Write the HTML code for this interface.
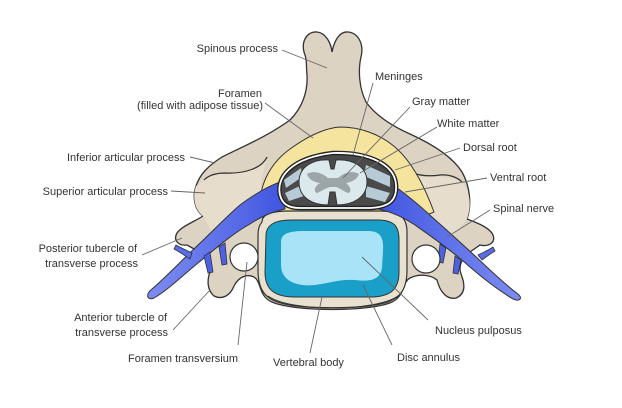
<!DOCTYPE html>
<html><head><meta charset="utf-8"><style>
html,body{margin:0;padding:0;background:#fff;}
svg{display:block;}
text{font-family:"Liberation Sans",Arial,sans-serif;font-size:11px;fill:#333;}
</style></head><body>
<svg width="622" height="408" viewBox="0 0 622 408" xmlns="http://www.w3.org/2000/svg">
<defs>
<linearGradient id="nl" x1="0" y1="0" x2="1" y2="0">
<stop offset="0" stop-color="#7d8cf0"/><stop offset="0.6" stop-color="#5a6de8"/><stop offset="1" stop-color="#3f55e0"/>
</linearGradient>
<linearGradient id="nr" x1="1" y1="0" x2="0" y2="0">
<stop offset="0" stop-color="#7d8cf0"/><stop offset="0.6" stop-color="#5a6de8"/><stop offset="1" stop-color="#3f55e0"/>
</linearGradient>
</defs>
<rect width="622" height="408" fill="#fff"/>

<!-- bone base -->
<path d="M305,55 C300,42 307,31 317,32 C326,33 331,43 332,52 C334,42 339,31 348,32 C359,33 364,45 361,57 C358,70 359,88 366,102 C376,116 392,126 410,134 C432,144 452,156 462,172 C470,186 472,205 467,219 C478,223 490,228 493,235 C496,243 488,247 480,245 L470,252 C462,258 458,266 461,274 C465,284 466,294 456,298 C447,300 440,292 437,280 C430,274 418,274 410,278 C402,282 405,296 392,302 C370,312 295,312 272,302 C258,296 262,282 254,277 C246,273 238,278 234,286 C230,296 222,300 214,296 C207,290 207,280 210,272 C211,262 205,255 196,250 L187,245 C178,246 173,240 177,233 C182,226 194,222 203,216 C195,210 192,198 196,186 C200,174 208,166 222,157 C244,146 268,136 290,120 C302,108 308,92 307,75 C306,65 307,60 305,55 Z" fill="#dcd3c3" stroke="#333" stroke-width="1.3"/>
<!-- lighter articular lobes -->
<path d="M204,180 C214,174 225,173 240,173 C252,171 262,166 267,158 C262,176 258,195 262,212 L245,208 L228,222 L212,233 L203,216 C195,210 192,198 196,186 Z" fill="#e6ddcd"/>
<path d="M462,182 C450,176 440,176 428,177 C418,178 408,172 397,162 C405,185 413,200 420,212 L435,220 L452,236 L467,219 C472,205 470,192 462,182 Z" fill="#e6ddcd"/>
<path d="M267,157 C262,168 245,174 225,173 C215,173 208,176 204,180" fill="none" stroke="#333" stroke-width="1.2"/>
<path d="M397,162 C405,172 420,178 440,175 C450,174 458,178 462,182" fill="none" stroke="#333" stroke-width="1.2"/>

<!-- yellow -->
<path d="M260,205 C260,182 272,162 290,149 C308,136 325,128 340,127 C360,127 380,134 396,148 C412,162 424,185 434,212 L420,218 L262,217 Z" fill="#f5e49e" stroke="#333" stroke-width="1"/>

<!-- body -->
<path d="M262,222 C262,214 272,211 290,211 L380,211 C398,211 407,216 407,232 L407,270 C407,290 400,300 380,304 C360,309 305,309 285,304 C265,300 258,290 258,270 L258,235 C258,228 260,224 262,222 Z" fill="#e9e1cf" stroke="#333" stroke-width="1.2"/>
<path d="M268,296 C290,312 375,312 398,296" fill="none" stroke="#333" stroke-width="1"/>
<!-- disc -->
<path d="M266,236 C266,224 276,220 292,220 L378,220 C394,220 399,226 399,240 L399,272 C399,290 390,297 370,297 L295,297 C275,297 265,290 265,272 Z" fill="#1a9fc8" stroke="#333" stroke-width="1"/>
<path d="M281,242 C281,233 290,231 305,231 L368,231 C380,231 384,237 383,251 L382,268 C380,280 370,282 355,280 C340,279 330,283 315,285 C295,287 281,280 281,265 Z" fill="#a8e3f7"/>

<!-- nerves -->
<path d="M283,181 C268,186 255,194 240,205 C225,218 212,232 195,248 C180,262 165,278 152,289 C145,294 147,301 154,298 C168,290 182,276 198,263 C215,249 232,234 250,224 C262,216 272,212 285,209 Z" fill="url(#nl)" stroke="#333" stroke-width="1"/>
<path d="M192,253 C186,250 181,248 176,245 L174,249 C180,252 185,256 190,259 Z" fill="#5a6de8" stroke="#333" stroke-width="0.8"/>
<path d="M204,256 L208,273 L213,272 L210,252 Z" fill="#4d61e4" stroke="#333" stroke-width="0.8"/>
<path d="M219,247 L222,265 L227,264 L225,243 Z" fill="#4d61e4" stroke="#333" stroke-width="0.8"/>

<path d="M390,183 C405,193 418,204 432,217 C450,233 470,251 490,270 C502,281 512,290 518,294 C523,298 520,302 513,299 C500,291 486,281 470,267 C452,251 432,237 415,225 C400,215 388,211 378,209 Z" fill="url(#nr)" stroke="#333" stroke-width="1"/>
<path d="M478,255 C484,252 489,250 493,247 L495,251 C490,254 486,257 482,260 Z" fill="#5a6de8" stroke="#333" stroke-width="0.8"/>
<path d="M440,244 L438,262 L443,263 L446,248 Z" fill="#4d61e4" stroke="#333" stroke-width="0.8"/>
<path d="M455,256 L453,273 L458,274 L461,260 Z" fill="#4d61e4" stroke="#333" stroke-width="0.8"/>

<!-- cord enclosure -->
<path d="M280,195 C276,178 290,158 333,153 C370,152 395,165 396,185 C397,200 390,207 370,208 L300,208 C287,208 282,203 280,195 Z" fill="#4a4a4a" stroke="#222" stroke-width="4.5"/>
<path d="M280,195 C276,178 290,158 333,153 C370,152 395,165 396,185 C397,200 390,207 370,208 L300,208 C287,208 282,203 280,195 Z" fill="none" stroke="#fff" stroke-width="1.8"/>
<path d="M284,180 L301,168 L302,177 L286,188 Z" fill="#b7cbd6"/>
<path d="M285,193 L302,185 L304,196 L289,201 Z" fill="#b7cbd6"/>
<path d="M390,176 L366,165 L364,176 L390,187 Z" fill="#b7cbd6"/>
<path d="M390,193 L366,186 L366,197 L385,202 Z" fill="#b7cbd6"/>
<!-- cord -->
<path d="M299,182 C299,166 314,159 329,160 L331,169 L334,169 L336,160 C352,159 367,166 367,182 C367,198 352,205 337,205 L335,192 L330,192 L328,205 C313,205 299,198 299,182 Z" fill="#dbe8ec" stroke="#333" stroke-width="1"/>
<path d="M307,174 C314,170 322,173 328,178 L338,178 C344,173 352,170 359,174 C357,180 351,182 346,183 C351,187 352,192 348,193 C343,191 340,188 336,187 L330,187 C326,188 322,191 317,193 C313,191 315,186 320,183 C314,182 309,180 307,174 Z" fill="#9ca5a8"/>

<!-- foramina transversaria -->
<circle cx="244" cy="257" r="14" fill="#fff" stroke="#333" stroke-width="1.2"/>
<circle cx="426" cy="259" r="14" fill="#fff" stroke="#333" stroke-width="1.2"/>

<!-- leaders -->
<g stroke="#666" stroke-width="0.9" fill="none">
<line x1="282" y1="50" x2="327" y2="68"/>
<line x1="265" y1="103" x2="313" y2="138"/>
<line x1="373" y1="83" x2="353" y2="155"/>
<line x1="410" y1="107" x2="343" y2="178"/>
<line x1="437" y1="127" x2="360" y2="173"/>
<line x1="460" y1="148" x2="395" y2="170"/>
<line x1="487" y1="178" x2="405" y2="192"/>
<line x1="490" y1="210" x2="447" y2="237"/>
<line x1="428" y1="320" x2="362" y2="257"/>
<line x1="392" y1="345" x2="363" y2="285"/>
<line x1="310" y1="353" x2="322" y2="297"/>
<line x1="238" y1="345" x2="247" y2="262"/>
<line x1="173" y1="330" x2="210" y2="290"/>
<line x1="142" y1="255" x2="182" y2="238"/>
<line x1="171" y1="191" x2="205" y2="193"/>
<line x1="190" y1="157" x2="215" y2="163"/>
</g>

<!-- labels -->
<text x="278" y="52" text-anchor="end">Spinous process</text>
<text x="262" y="97" text-anchor="end">Foramen</text>
<text x="263" y="109" text-anchor="end">(filled with adipose tissue)</text>
<text x="375" y="80">Meninges</text>
<text x="412" y="105">Gray matter</text>
<text x="437" y="127">White matter</text>
<text x="463" y="151">Dorsal root</text>
<text x="490" y="181">Ventral root</text>
<text x="493" y="212">Spinal nerve</text>
<text x="435" y="334">Nucleus pulposus</text>
<text x="397" y="361">Disc annulus</text>
<text x="273" y="366">Vertebral body</text>
<text x="128" y="362">Foramen transversium</text>
<text x="167" y="321" text-anchor="end">Anterior tubercle of</text>
<text x="168" y="336" text-anchor="end">transverse process</text>
<text x="137" y="252" text-anchor="end">Posterior tubercle of</text>
<text x="138" y="267" text-anchor="end">transverse process</text>
<text x="168" y="195" text-anchor="end">Superior articular process</text>
<text x="185" y="161" text-anchor="end">Inferior articular process</text>
</svg>
</body></html>
